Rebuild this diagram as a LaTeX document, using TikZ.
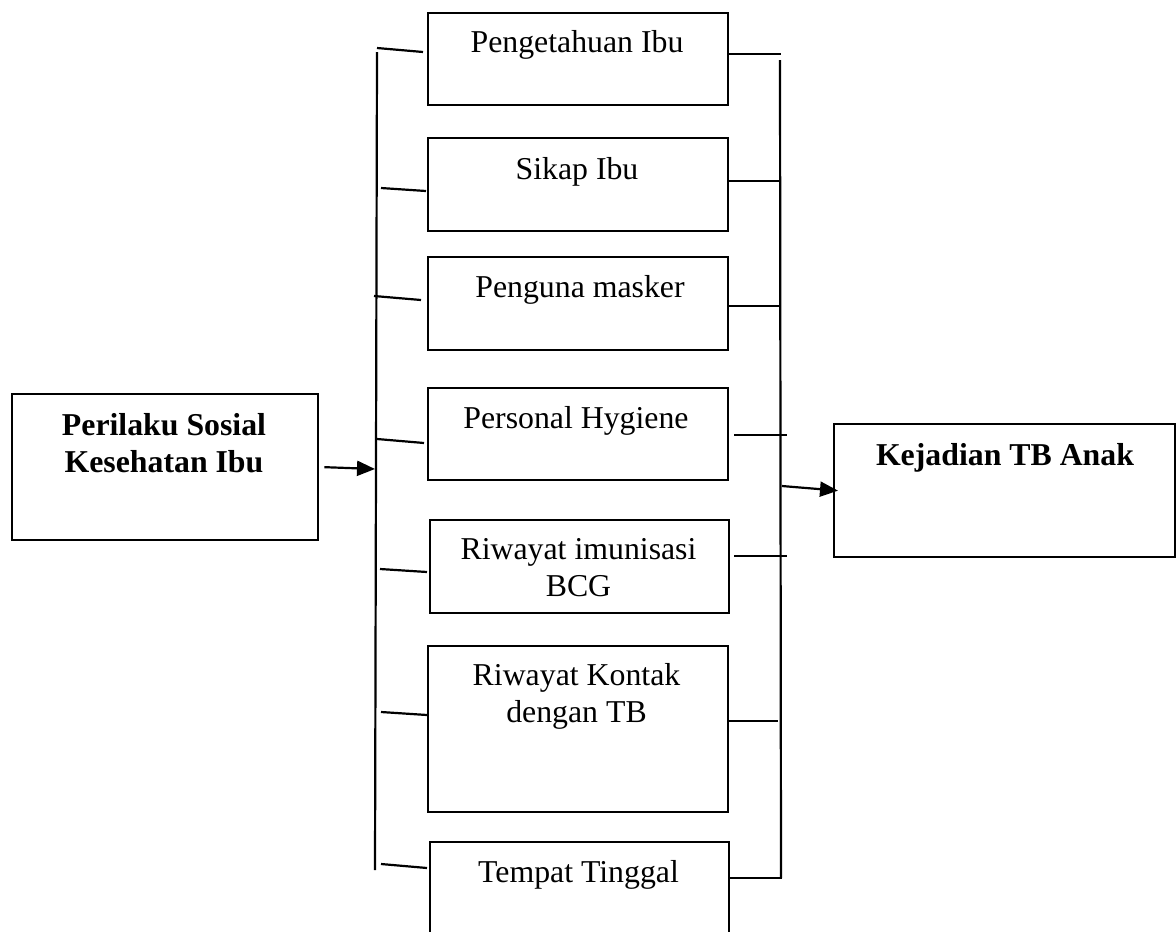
\documentclass[tikz,border=0pt]{standalone}
\usepackage{fontspec}
\setmainfont{Liberation Serif}
\usetikzlibrary{arrows.meta,calc}
\begin{document}
\begin{tikzpicture}[x=1pt,y=-1pt,
  frame/.style={draw, line width=2.3pt, inner sep=0pt, anchor=north west},
  lbl/.style={font=\fontsize{31.8}{36.8}\selectfont, inner sep=0pt, anchor=base, align=center},
  lblb/.style={lbl, font=\fontsize{31.8}{36.8}\selectfont\bfseries},
  wire/.style={line width=2.2pt},
  flow/.style={wire, -{Triangle[length=18pt,width=15pt]}}]
\useasboundingbox (0,0) rectangle (1176,932);
\clip (0,0) rectangle (1176,932);

% boxes
\node[frame, minimum width=306pt, minimum height=146pt] (L) at (11,393) {};
\node[frame, minimum width=300pt, minimum height=92pt] (b1) at (427,12) {};
\node[frame, minimum width=300pt, minimum height=93pt] (b2) at (427,137) {};
\node[frame, minimum width=300pt, minimum height=93pt] (b3) at (427,256) {};
\node[frame, minimum width=300pt, minimum height=92pt] (b4) at (427,387) {};
\node[frame, minimum width=299pt, minimum height=93pt] (b5) at (429,519) {};
\node[frame, minimum width=300pt, minimum height=166pt] (b6) at (427,645) {};
\node[frame, minimum width=299pt, minimum height=130pt] (b7) at (429,841) {};
\node[frame, minimum width=341pt, minimum height=133pt] (R) at (833,423) {};

% texts (base = baseline of the last line)
\node[lblb] (tL) at (164,472) {Perilaku Sosial\\Kesehatan Ibu};
\node[lbl] (t1) at (577,52) {Pengetahuan Ibu};
\node[lbl] (t2) at (577,179) {Sikap Ibu};
\node[lbl] (t3) at (580,297) {Penguna masker};
\node[lbl] (t4) at (576,428) {Personal Hygiene};
\node[lbl] (t5) at (578.5,596) {Riwayat imunisasi\\BCG};
\node[lbl] (t6) at (576.5,722) {Riwayat Kontak\\dengan TB};
\node[lbl] (t7) at (578.5,882) {Tempat Tinggal};
\node[lblb] (tR) at (1005,465) {Kejadian TB Anak};

% left bus
\coordinate (LT) at (377,52);
\coordinate (LB) at (375,870);
\coordinate (LI) at (375,469);
\draw[wire] (LT) -- (LB);
\draw[flow] ([xshift=5pt]L.east) -- (LI);

\coordinate (l1) at (377,48);
\coordinate (l2) at (381,188);
\coordinate (l3) at (374,296);
\coordinate (l4) at (377,439);
\coordinate (l5) at (380,569);
\coordinate (l6) at (381,712);
\coordinate (l7) at (381,864);
\draw[wire] (l1) -- ($(b1.north west)+(-4,40)$);
\draw[wire] (l2) -- ($(b2.north west)+(-1,54)$);
\draw[wire] (l3) -- ($(b3.north west)+(-6,44)$);
\draw[wire] (l4) -- ($(b4.north west)+(-3,56)$);
\draw[wire] (l5) -- ($(b5.north west)+(-2,53)$);
\draw[wire] (l6) -- ($(b6.north west)+(0,70)$);
\draw[wire] (l7) -- ($(b7.north west)+(-2,27)$);

% right bus
\coordinate (RT) at (780,60);
\coordinate (RB) at (781,878);
\coordinate (RI) at (782,486);
\draw[wire] (RT) -- (RB);
\draw[flow] (RI) -- ([xshift=5pt]R.west);

\coordinate (r1) at (781,54);
\coordinate (r2) at (781,181);
\coordinate (r3) at (781,306);
\coordinate (r4) at (787,435);
\coordinate (r5) at (787,556);
\coordinate (r6) at (778,721);
\coordinate (r7) at (782,878);
\draw[wire] ($(b1.north east)+(0,42)$) -- (r1);
\draw[wire] ($(b2.north east)+(0,44)$) -- (r2);
\draw[wire] ($(b3.north east)+(0,50)$) -- (r3);
\draw[wire] ($(b4.north east)+(5,48)$) -- (r4);
\draw[wire] ($(b5.north east)+(4,37)$) -- (r5);
\draw[wire] ($(b6.north east)+(-2,76)$) -- (r6);
\draw[wire] ($(b7.north east)+(0,37)$) -- (r7);
\end{tikzpicture}
\end{document}
